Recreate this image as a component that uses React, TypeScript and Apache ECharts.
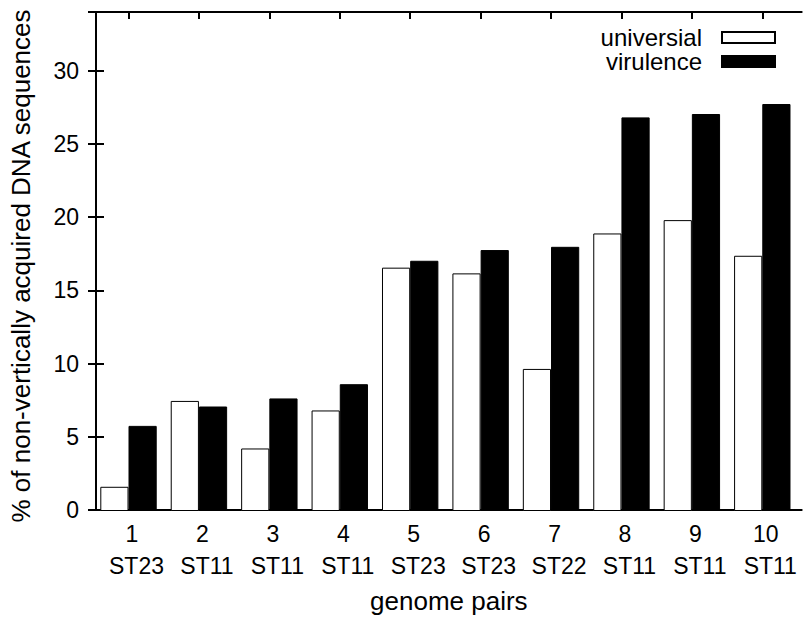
import React, { useEffect, useRef } from 'react';
import * as echarts from 'echarts';

const pairNumbers = ['1', '2', '3', '4', '5', '6', '7', '8', '9', '10'];
const pairTypes = ['ST23', 'ST11', 'ST11', 'ST11', 'ST23', 'ST23', 'ST22', 'ST11', 'ST11', 'ST11'];
const universalValues = [1.65, 7.5, 4.26, 6.85, 16.58, 16.19, 9.68, 18.91, 19.82, 17.39];
const virulenceValues = [5.8, 7.12, 7.67, 8.64, 17.05, 17.78, 18.0, 26.82, 27.05, 27.73];
const seriesNames = ['universial', 'virulence'];
const yMin = 0;
const yMax = 34;
const yStep = 5;

const FONT = '"Liberation Sans", Arial, Helvetica, sans-serif';

export default function App() {
  const ref = useRef<HTMLDivElement>(null);
  useEffect(() => {
    document.body.style.margin = '0';
    const chart = echarts.init(ref.current as HTMLDivElement, null, { renderer: 'svg' });
    const axisLineStyle = { color: '#000', width: 2 };
    chart.setOption({
      animation: false,
      backgroundColor: '#fff',
      textStyle: { fontFamily: FONT, color: '#000' },
      grid: [
        { left: 89, right: 3.3, top: 12, bottom: 108 },
        { left: 93.3, right: 7.5, top: 12, bottom: 108 },
      ],
      legend: {
        data: seriesNames,
        orient: 'vertical',
        align: 'right',
        right: 29,
        top: 25.5,
        itemWidth: 53,
        itemHeight: 11,
        itemGap: 0,
        padding: 0,
        icon: 'rect',
        selectedMode: false,
        textStyle: { fontSize: 24, lineHeight: 24, fontFamily: FONT, color: '#000', padding: [0, 15, 0, 0] },
      },
      xAxis: [
        {
          type: 'value', gridIndex: 0, min: 0, max: 1, position: 'bottom',
          axisLine: { show: true, onZero: false, lineStyle: axisLineStyle },
          axisTick: { show: false }, axisLabel: { show: false }, splitLine: { show: false },
          name: 'genome pairs', nameLocation: 'middle', nameGap: 78,
          nameTextStyle: { fontSize: 26, fontFamily: FONT, color: '#000' },
        },
        {
          type: 'value', gridIndex: 0, min: 0, max: 1, position: 'top',
          axisLine: { show: true, onZero: false, lineStyle: axisLineStyle },
          axisTick: { show: false }, axisLabel: { show: false }, splitLine: { show: false },
        },
        {
          type: 'category', gridIndex: 1, data: pairNumbers, position: 'bottom',
          axisLine: { show: false }, axisTick: { show: false },
          axisLabel: {
            margin: 7.5,
            interval: 0,
            formatter: (v: string, i: number) => `{n|${v}}\n{s|${pairTypes[i]}}`,
            rich: {
              n: { fontSize: 23, lineHeight: 31.5, fontFamily: FONT, color: '#000', padding: [0, 0, 0, 7] },
              s: { fontSize: 23, lineHeight: 31.5, fontFamily: FONT, color: '#000', padding: [0, 0, 0, 16] },
            },
          },
        },
        {
          type: 'category', gridIndex: 1, data: pairNumbers, position: 'top',
          axisLine: { show: false },
          axisTick: { show: true, inside: true, alignWithLabel: true, length: 7, lineStyle: axisLineStyle },
          axisLabel: { show: false },
        },
      ],
      yAxis: [
        {
          type: 'value', gridIndex: 0, min: yMin, max: yMax, interval: yStep, position: 'left',
          axisLine: { show: true, lineStyle: axisLineStyle },
          axisTick: { show: true, inside: true, length: 8, lineStyle: axisLineStyle },
          axisLabel: {
            margin: 17, fontSize: 23, fontFamily: FONT, color: '#000', showMaxLabel: false,
            formatter: (v: number) => (v % yStep === 0 ? String(v) : ''),
          },
          splitLine: { show: false },
          name: '% of non-vertically acquired DNA sequences', nameLocation: 'middle', nameGap: 62, nameRotate: 90,
          nameTextStyle: { fontSize: 26, fontFamily: FONT, color: '#000', padding: [0, 10, 0, 0] },
        },
        {
          type: 'value', gridIndex: 0, min: yMin, max: yMax, interval: yStep, position: 'right',
          axisLine: { show: true, lineStyle: axisLineStyle },
          axisTick: { show: true, inside: true, length: 8, lineStyle: axisLineStyle },
          axisLabel: { show: false }, splitLine: { show: false },
        },
        { type: 'value', gridIndex: 1, min: yMin, max: yMax, show: false },
      ],
      series: [
        {
          name: seriesNames[0], type: 'bar', xAxisIndex: 2, yAxisIndex: 2, data: universalValues,
          barWidth: 28.2, barGap: '0%',
          itemStyle: { color: '#fff', borderColor: '#000', borderWidth: 1 },
        },
        {
          name: seriesNames[1], type: 'bar', xAxisIndex: 2, yAxisIndex: 2, data: virulenceValues,
          barWidth: 28.2, barGap: '0%',
          itemStyle: { color: '#000', borderColor: '#000', borderWidth: 1 },
        },
      ],
    });
    return () => chart.dispose();
  }, []);
  return <div ref={ref} style={{ width: 805, height: 619 }} />;
}
